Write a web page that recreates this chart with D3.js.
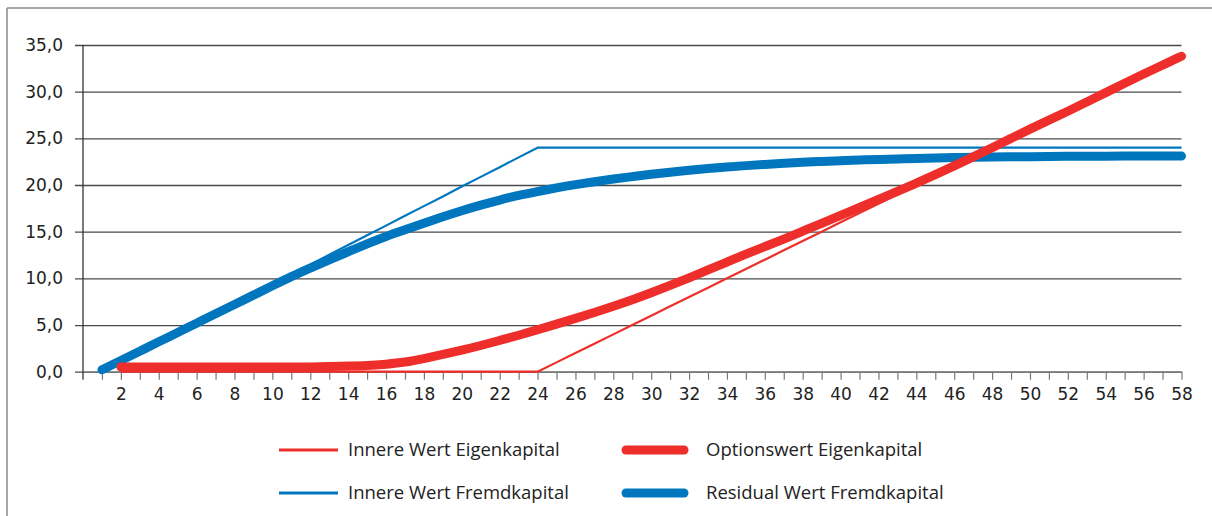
<!DOCTYPE html>
<html>
<head>
<meta charset="utf-8">
<script src="https://cdn.jsdelivr.net/npm/d3@7/dist/d3.min.js"></script>
<style>
  html, body { margin: 0; padding: 0; background: #fff; }
  svg { display: block; }
</style>
</head>
<body>
<svg id="chart" width="1212" height="516"></svg>
<script>
// Unternehmenswert (x) und Werte der Kapitalkomponenten
const xValues = d3.range(1, 59);

// Innere Wert Eigenkapital: 0 bis 24, danach linear
const innereEK = [
  null, 0, 0, 0, 0, 0, 0, 0, 0, 0, 0, 0, 0, 0, 0, 0, 0, 0, 0, 0, 0, 0, 0, 0,
  1, 2, 3, 4, 5, 6, 7, 8, 9, 10, 11, 12, 13, 14, 15, 16, 17, 18, 19, 20,
  21, 22, 23, 24, 25, 26, 27, 28, 29, 30, 31, 32, 33, 34
];

// Optionswert Eigenkapital
const optionEK = [
  null, 0.5, 0.5, 0.5, 0.5, 0.5, 0.5, 0.5, 0.5, 0.5, 0.5, 0.5, 0.55, 0.6, 0.65, 0.8,
  1.0, 1.4, 1.85, 2.3, 2.8, 3.35, 3.9, 4.5, 5.1, 5.7, 6.35, 7.0, 7.7, 8.45,
  9.25, 10.05, 10.9, 11.75, 12.6, 13.4, 14.2, 15.05, 15.9, 16.75, 17.6, 18.45, 19.3, 20.2,
  21.1, 22.05, 23.0, 24.0, 25.0, 26.0, 26.95, 27.9, 28.9, 29.9, 30.9, 31.9, 32.85, 33.8
];

// Innere Wert Fremdkapital: linear bis 24, danach konstant
const innereFK = [
  0, 1.04, 2.09, 3.13, 4.17, 5.22, 6.26, 7.3, 8.35, 9.39, 10.43, 11.48, 12.52, 13.57,
  14.61, 15.65, 16.7, 17.74, 18.78, 19.83, 20.87, 21.91, 22.96, 24,
  24, 24, 24, 24, 24, 24, 24, 24, 24, 24, 24, 24, 24, 24, 24, 24, 24, 24, 24, 24,
  24, 24, 24, 24, 24, 24, 24, 24, 24, 24, 24, 24, 24, 24
];

// Residual Wert Fremdkapital
const residualFK = [
  0.2, 1.2, 2.2, 3.2, 4.2, 5.2, 6.2, 7.2, 8.2, 9.2, 10.2, 11.1, 12.0, 12.85,
  13.7, 14.5, 15.2, 15.9, 16.6, 17.25, 17.85, 18.4, 18.9, 19.3, 19.7, 20.05,
  20.35, 20.65, 20.9, 21.15, 21.38, 21.58, 21.77, 21.94, 22.08, 22.21, 22.33, 22.44,
  22.53, 22.61, 22.68, 22.74, 22.8, 22.85, 22.9, 22.94, 22.97, 23.0, 23.02, 23.04,
  23.06, 23.07, 23.08, 23.09, 23.1, 23.1, 23.1, 23.1
];

const yTicks = [0, 5, 10, 15, 20, 25, 30, 35];
const xTickLabels = d3.range(2, 59, 2);

const RED = "#ee2e2a";
const BLUE = "#0076bf";

const seriesList = [
  { name: "Innere Wert Fremdkapital", values: innereFK, color: BLUE, width: 2.2, smooth: false },
  { name: "Residual Wert Fremdkapital", values: residualFK, color: BLUE, width: 9, smooth: true },
  { name: "Innere Wert Eigenkapital", values: innereEK, color: RED, width: 2.2, smooth: false },
  { name: "Optionswert Eigenkapital", values: optionEK, color: RED, width: 9, smooth: true }
];

const legendItems = [
  { name: "Innere Wert Eigenkapital", color: RED, width: 3 },
  { name: "Optionswert Eigenkapital", color: RED, width: 9 },
  { name: "Innere Wert Fremdkapital", color: BLUE, width: 3 },
  { name: "Residual Wert Fremdkapital", color: BLUE, width: 9 }
];

const svg = d3.select("#chart");
const W = 1212, H = 516;

// frame lines (top and left)
svg.append("line").attr("x1", 7).attr("x2", W).attr("y1", 8).attr("y2", 8)
  .attr("stroke", "#8a8a8a").attr("stroke-width", 1.5);
svg.append("line").attr("x1", 7).attr("x2", 7).attr("y1", 8).attr("y2", H)
  .attr("stroke", "#8a8a8a").attr("stroke-width", 1.5);

const x = d3.scaleLinear().domain([0, 58]).range([83, 1181.5]);
const y = d3.scaleLinear().domain([0, 35]).range([371.7, 45]);

const locale = d3.formatLocale({ decimal: ",", thousands: ".", grouping: [3], currency: ["", " €"] });
const fmt = locale.format(".1f");

// horizontal gridlines with left ticks
const yAxis = svg.append("g")
  .attr("transform", `translate(${x(0)},0)`)
  .call(d3.axisLeft(y).tickValues(yTicks).tickFormat(fmt)
    .tickSize(8).tickSizeOuter(0).tickPadding(12));
yAxis.select(".domain").remove();
yAxis.selectAll(".tick line").attr("stroke", "#4a4a4a").attr("stroke-width", 1.3)
  .attr("x1", -8).attr("x2", x(58) - x(0));
yAxis.selectAll(".tick text")
  .attr("font-family", "DejaVu Sans, sans-serif").attr("font-size", 17)
  .attr("fill", "#222");

// vertical axis line
svg.append("line").attr("x1", x(0)).attr("x2", x(0)).attr("y1", y(35)).attr("y2", y(0) + 8)
  .attr("stroke", "#333").attr("stroke-width", 1.3);

// x axis
const xAxis = svg.append("g")
  .attr("transform", `translate(0,${y(0)})`)
  .call(d3.axisBottom(x).tickValues(xValues)
    .tickFormat(d => xTickLabels.includes(d) ? String(d) : "")
    .tickSize(8).tickSizeOuter(0).tickPadding(8));
xAxis.select(".domain").attr("stroke", "#777").attr("stroke-width", 1.3);
xAxis.selectAll(".tick line").attr("stroke", "#777").attr("stroke-width", 1.2);
xAxis.selectAll(".tick text")
  .attr("font-family", "DejaVu Sans, sans-serif").attr("font-size", 17)
  .attr("fill", "#222");

// data lines
const plot = svg.append("g");
seriesList.forEach(s => {
  const pts = xValues.map((xv, i) => ({ x: xv, v: s.values[i] })).filter(p => p.v !== null);
  const line = d3.line()
    .x(p => x(p.x)).y(p => y(p.v))
    .curve(s.smooth ? d3.curveBasis : d3.curveLinear);
  plot.append("path").datum(pts)
    .attr("d", line)
    .attr("fill", "none")
    .attr("stroke", s.color)
    .attr("stroke-width", s.width)
    .attr("stroke-linecap", s.smooth ? "round" : "butt")
    .attr("stroke-linejoin", "round");
});

// legend
const legendPos = [
  { lx: 279, tx: 348, y: 450 },
  { lx: 622, tx: 706, y: 450 },
  { lx: 279, tx: 348, y: 493 },
  { lx: 622, tx: 706, y: 493 }
];
const legend = svg.append("g");
legendItems.forEach((it, i) => {
  const p = legendPos[i];
  const thick = it.width > 5;
  legend.append("line")
    .attr("x1", p.lx + (thick ? 4 : 0)).attr("x2", p.lx + (thick ? 62 : 59))
    .attr("y1", p.y).attr("y2", p.y)
    .attr("stroke", it.color).attr("stroke-width", it.width)
    .attr("stroke-linecap", thick ? "round" : "butt");
  legend.append("text")
    .attr("x", p.tx).attr("y", p.y).attr("dy", "0.35em")
    .attr("font-family", "Open Sans, sans-serif").attr("font-size", 18.5)
    .attr("fill", "#222")
    .text(it.name);
});
</script>
</body>
</html>
